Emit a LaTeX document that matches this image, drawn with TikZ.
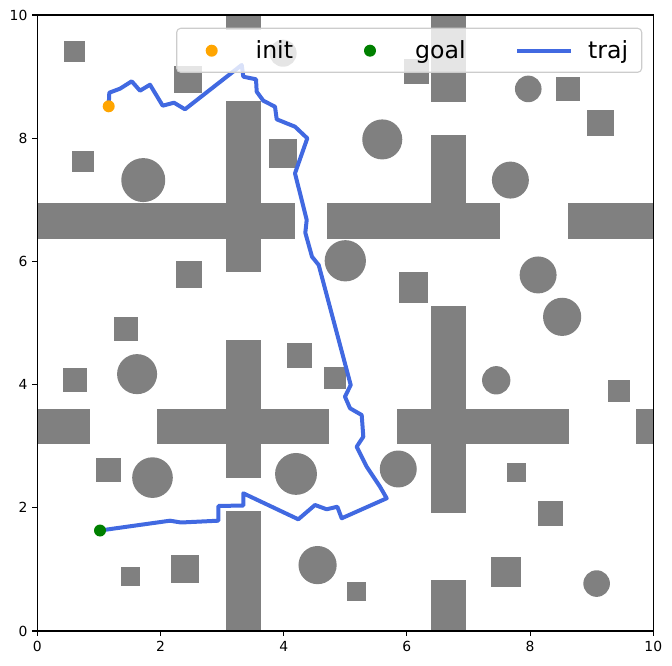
\documentclass[tikz,border=0pt]{standalone}
\usepackage{fontspec}
\setmainfont{DejaVu Sans}
\definecolor{obst}{RGB}{128,128,128}
\definecolor{royal}{RGB}{65,105,225}
\definecolor{mplorange}{RGB}{255,165,0}
\definecolor{mplgreen}{RGB}{0,128,0}
\definecolor{legedge}{RGB}{204,204,204}
\tikzset{
  obstacle/.style={fill=obst},
  trajline/.style={draw=royal, line width=4pt, line join=round, line cap=butt},
  legbox/.style={draw=legedge, line width=1.1pt, fill=white, fill opacity=0.8, rounded corners=4pt},
  legtext/.style={anchor=base west, inner sep=0pt, font=\fontsize{23.6}{28}\selectfont},
  ticklabel/.style={inner sep=0pt, font=\fontsize{13.9}{16}\selectfont},
}
\begin{document}
\begin{tikzpicture}[x=1pt,y=1pt]
\useasboundingbox (0,0) rectangle (672,665);
% ---------- obstacles (data coordinates) ----------
\begin{scope}[shift={(37.3,34)}, x=61.6pt, y=61.6pt]
  \begin{scope}
  \clip (0,0) rectangle (10,10);
  % crosses and bars
  \foreach \a/\b/\c/\d in {
    3.06/5.82/3.63/8.61, 0/6.36/4.18/6.95, 3.06/9.76/3.63/10,
    6.39/6.36/6.96/8.05, 4.71/6.36/7.51/6.95, 6.39/8.59/6.96/10,
    8.61/6.36/10/6.95,
    3.06/2.48/3.63/4.72, 1.94/3.04/4.74/3.60, 3.06/0/3.63/1.95,
    0/3.04/0.86/3.60,
    6.39/1.92/6.96/5.28, 5.84/3.04/8.63/3.60, 6.39/0/6.96/0.83,
    9.72/3.04/10/3.60}
    \fill[obstacle] (\a,\b) rectangle (\c,\d);
  % squares
  \foreach \a/\b/\c/\d in {
    0.43/9.24/0.78/9.58, 2.22/8.73/2.68/9.17, 3.76/7.52/4.22/7.99,
    0.56/7.45/0.92/7.79, 2.25/5.57/2.68/6.01, 1.25/4.71/1.63/5.10,
    5.95/8.88/6.36/9.29, 8.42/8.61/8.81/9.00, 8.93/8.03/9.36/8.46,
    5.87/5.33/6.34/5.82, 0.41/3.88/0.81/4.27, 4.06/4.27/4.46/4.68,
    4.65/3.93/5.01/4.29, 0.95/2.42/1.36/2.81, 1.36/0.73/1.67/1.04,
    2.17/0.78/2.62/1.23, 5.03/0.49/5.34/0.80, 9.26/3.72/9.62/4.07,
    7.62/2.42/7.93/2.73, 8.13/1.70/8.53/2.11, 7.37/0.71/7.85/1.20}
    \fill[obstacle] (\a,\b) rectangle (\c,\d);
  % circles
  \foreach \x/\y/\r in {
    3.99/9.38/0.22, 1.72/7.32/0.357, 5.00/6.01/0.335, 7.97/8.80/0.216,
    5.60/7.98/0.325, 7.68/7.32/0.30, 8.13/5.78/0.30, 8.52/5.10/0.31,
    1.62/4.17/0.325, 1.87/2.49/0.33, 4.20/2.55/0.34, 4.55/1.07/0.31,
    7.45/4.07/0.23, 5.86/2.63/0.30, 9.08/0.77/0.216}
    \fill[obstacle] (\x,\y) circle[radius=\r];
  \end{scope}
  % ticks and tick labels
  \foreach \v in {0,2,4,6,8,10} {
    \draw[line width=1.1pt] (\v,0) -- ++(0,-4.86pt);
    \node[ticklabel, anchor=north] (xl\v) at ([yshift=-9.7pt]\v,0) {\v};
    \draw[line width=1.1pt] (0,\v) -- ++(-4.86pt,0);
    \node[ticklabel, anchor=east] (yl\v) at ([xshift=-9.7pt]0,\v) {\v};
  }
\end{scope}
% ---------- pixel coordinates ----------
\begin{scope}[shift={(0,665)}, yscale=-1]
  \draw[trajline] (108.7,106.3) -- (109.3,92.7) -- (120,88.7) -- (131.7,81.3)
    -- (140,90.7) -- (150,84.7) -- (162.7,105.7) -- (174,102.7) -- (185,109.3)
    -- (241.7,65) -- (243.3,76.7) -- (256,79.3) -- (256.7,91.7) -- (263.3,100.7)
    -- (275,106.7) -- (276.7,119.3) -- (295,126.7) -- (307.3,138.3) -- (295,173.3)
    -- (306.7,220) -- (305.3,232.7) -- (312,256.7) -- (318.7,265) -- (350.7,385)
    -- (345,396.7) -- (350,408.3) -- (361.7,415) -- (363.3,436.7) -- (356.7,446.7)
    -- (366.7,466.7) -- (380,486.7) -- (386.7,498.3) -- (341.7,518.3) -- (337.3,506.7)
    -- (326.7,509.3) -- (315,505) -- (298.3,519.3) -- (243.3,493.3) -- (243.3,505.5)
    -- (218.3,506) -- (218.3,520.7) -- (181,522.5) -- (170,520.7) -- (100,530.5);
  \fill[mplorange] (108.7,106.3) circle[radius=6];
  \fill[mplgreen] (100,530.5) circle[radius=6];
  % axes frame
  \draw[line width=1.1pt] (37.3,15) rectangle (653.3,631);
  % legend
  \draw[legbox] (176.7,28.3) rectangle (641.7,72.3);
  \fill[mplorange] (211.7,50.7) circle[radius=6];
  \node[legtext] (linit) at (255.5,58.3) {init};
  \fill[mplgreen] (370,50.7) circle[radius=6];
  \node[legtext] (lgoal) at (415,58.3) {goal};
  \draw[draw=royal, line width=4pt] (517.3,50.7) -- (570.7,50.7);
  \node[legtext] (ltraj) at (588,58.3) {traj};
\end{scope}
\end{tikzpicture}
\end{document}
